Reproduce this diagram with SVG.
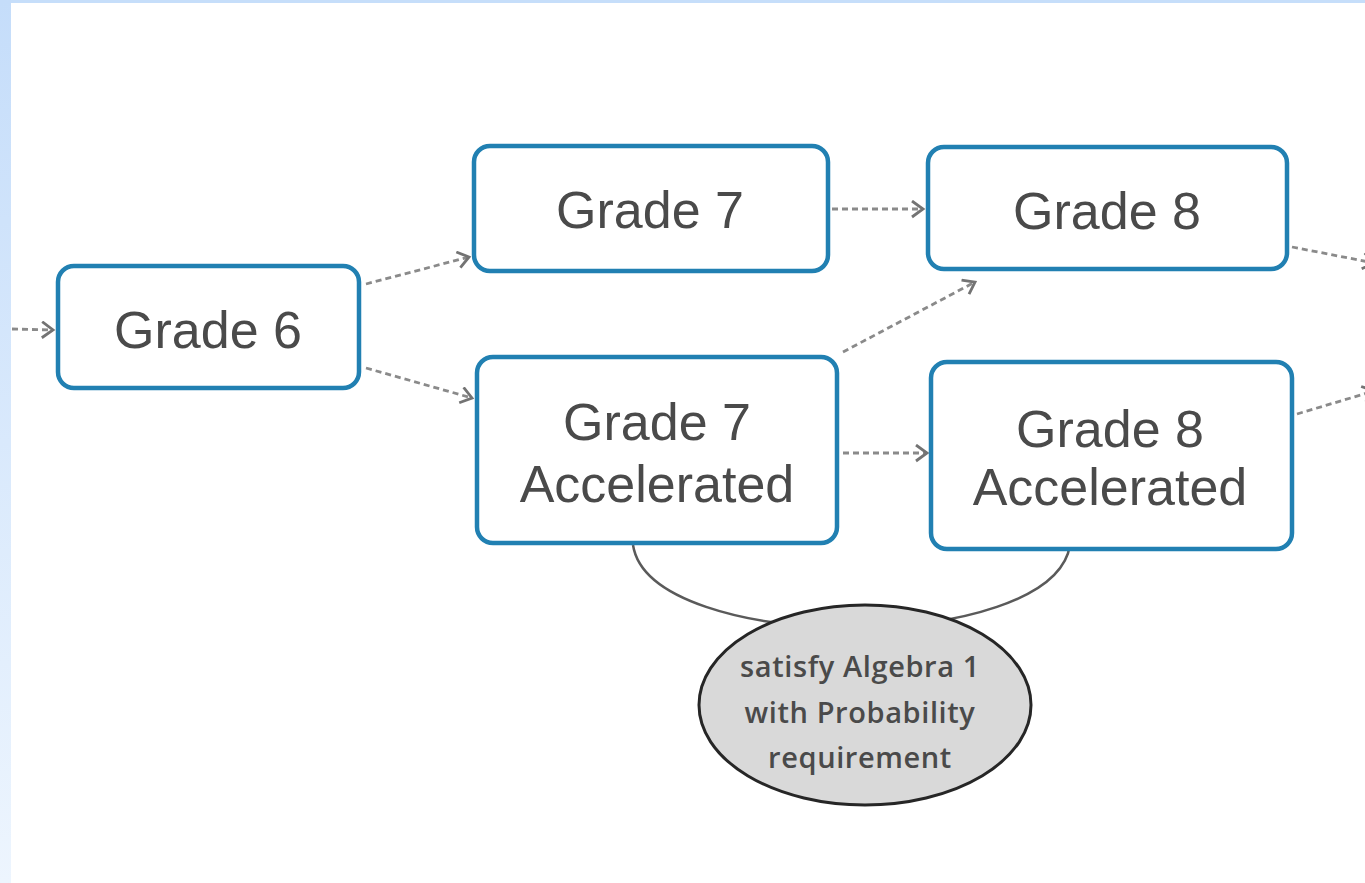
<svg xmlns="http://www.w3.org/2000/svg" width="1365" height="883" viewBox="0 0 1365 883">
  <defs>
    <linearGradient id="sideBand" x1="0" y1="0" x2="0" y2="1">
      <stop offset="0" stop-color="#c5ddfa"/>
      <stop offset="1" stop-color="#edf5fe"/>
    </linearGradient>
    <marker id="chevron" markerUnits="userSpaceOnUse" markerWidth="18" markerHeight="20" refX="13" refY="9" orient="auto">
      <path d="M2,1 L13,9 L2,17" fill="none" stroke="#737373" stroke-width="2.8"/>
    </marker>
    <style>
      .node rect { fill: #ffffff; stroke: #2180b2; stroke-width: 4.5; }
      .node text { font-family: "Liberation Sans", Arial, sans-serif; font-size: 52px; fill: #4a4a4a; text-anchor: middle; }
      .flow { fill: none; stroke: #8a8a8a; stroke-width: 2.8; stroke-dasharray: 6 4; marker-end: url(#chevron); }
      .link { fill: none; stroke: #5a5a5a; stroke-width: 2.5; }
      .note ellipse { fill: #d9d9d9; stroke: #262626; stroke-width: 3; }
      .note text { font-family: "Open Sans", "Liberation Sans", sans-serif; font-size: 29px; font-weight: 600; letter-spacing: 0.6px; fill: #4a4a4a; text-anchor: middle; }
    </style>
  </defs>

  <!-- page background with tinted top and left bands -->
  <rect x="0" y="0" width="1365" height="883" fill="#ffffff"/>
  <rect x="0" y="0" width="1365" height="3" fill="#c6defa"/>
  <rect x="0" y="0" width="11" height="883" fill="url(#sideBand)"/>

  <!-- connectors -->
  <g id="connectors">
    <path class="flow" d="M12,329 L53,330"/>
    <path class="flow" d="M366,284 L469,257"/>
    <path class="flow" d="M366,368 L472,398"/>
    <path class="flow" d="M832,209 L923,209"/>
    <path class="flow" d="M843,352 L975,282"/>
    <path class="flow" d="M843,453 L927,453"/>
    <path class="flow" d="M1292,247 L1374,263"/>
    <path class="flow" d="M1297,414 L1374,391"/>
    <path class="link" d="M633,545 C650,655 1053,655 1070,545"/>
  </g>

  <g id="grade6" class="node">
    <rect x="58" y="266" width="301" height="122" rx="16"/>
    <text x="208" y="348">Grade 6</text>
  </g>

  <g id="grade7" class="node">
    <rect x="474" y="146" width="354" height="125" rx="16"/>
    <text x="650" y="228">Grade 7</text>
  </g>

  <g id="grade7-accelerated" class="node">
    <rect x="477" y="357" width="360" height="186" rx="16"/>
    <text x="657" y="440">Grade 7</text>
    <text x="657" y="502">Accelerated</text>
  </g>

  <g id="grade8" class="node">
    <rect x="928" y="147" width="359" height="122" rx="16"/>
    <text x="1107" y="229">Grade 8</text>
  </g>

  <g id="grade8-accelerated" class="node">
    <rect x="931" y="362" width="361" height="187" rx="16"/>
    <text x="1110" y="447">Grade 8</text>
    <text x="1110" y="505">Accelerated</text>
  </g>

  <g id="algebra-note" class="note">
    <ellipse cx="865" cy="705" rx="166" ry="100"/>
    <text x="860" y="677">satisfy Algebra 1</text>
    <text x="860" y="723">with Probability</text>
    <text x="860" y="768">requirement</text>
  </g>
</svg>
